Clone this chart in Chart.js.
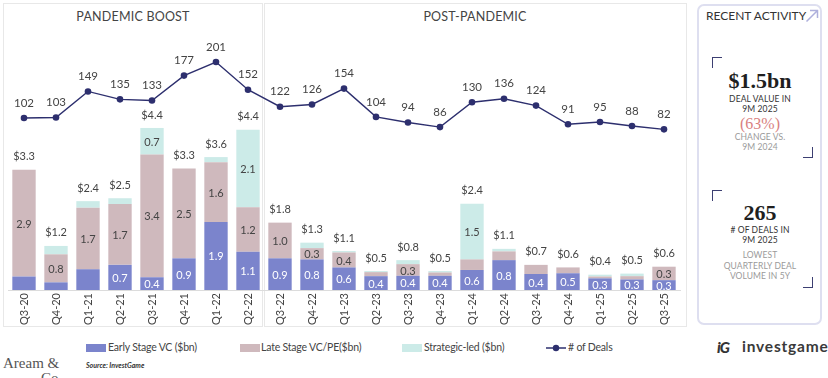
<!DOCTYPE html>
<html>
<head>
<meta charset="utf-8">
<script src="https://cdn.jsdelivr.net/npm/chart.js@4/dist/chart.umd.min.js"></script>
<style>
  html,body{margin:0;padding:0;background:#fff;}
  body{width:828px;height:378px;overflow:hidden;position:relative;font-family:Lato,"Open Sans",sans-serif;color:#3c3c3c;}
  .abs{position:absolute;}
  .panel{position:absolute;border:1px solid #e8e8e8;box-sizing:border-box;}
  .ptitle{position:absolute;top:9px;font-size:12.5px;color:#444;letter-spacing:0.2px;white-space:nowrap;transform:translateX(-50%);}
  #side{left:697px;top:4px;width:125px;height:321px;border:2px solid #dedff0;border-radius:7px;box-sizing:border-box;}
  .ctr{position:absolute;left:700px;width:120px;text-align:center;white-space:nowrap;transform:translateY(-50%);}
  .big{font-family:"Liberation Serif","DejaVu Serif",serif;font-weight:bold;font-size:22px;color:#1f1f1f;}
  .sm{font-size:8.5px;color:#333;letter-spacing:0.1px;}
  .gr{font-size:8.5px;color:#9a9a9a;letter-spacing:0.1px;}
  .br{position:absolute;width:10px;height:11px;box-sizing:border-box;border-color:#3c3f72;border-style:solid;}
  .tl{border-width:1.5px 0 0 1.5px;}
  .brr{border-width:0 1.5px 1.5px 0;}
  .leg{position:absolute;top:341px;font-size:10.5px;color:#444;white-space:nowrap;letter-spacing:-0.2px;}
  .sw{position:absolute;top:344px;width:20px;height:8px;}
</style>
</head>
<body>
<div class="panel" style="left:3px;top:3px;width:260px;height:324px;"></div>
<div class="panel" style="left:264px;top:3px;width:423px;height:324px;"></div>
<div class="ptitle" style="left:133px;">PANDEMIC BOOST</div>
<div class="ptitle" style="left:475px;">POST-PANDEMIC</div>

<div id="side" class="abs"></div>
<div class="abs" style="left:706px;top:8px;font-size:12px;color:#333;white-space:nowrap;">RECENT ACTIVITY</div>
<svg class="abs" style="left:805px;top:9px;" width="14" height="14" viewBox="0 0 14 14"><path d="M1.5 12.5 L12.5 1.5 M5 1.5 L12.5 1.5 L12.5 9" stroke="#aeb0dc" stroke-width="1.5" fill="none"/></svg>

<div class="br tl" style="left:712px;top:57px;"></div>
<div class="br brr" style="left:803px;top:147px;"></div>
<div class="ctr big" style="top:81px;">$1.5bn</div>
<div class="ctr sm" style="top:99px;">DEAL VALUE IN</div>
<div class="ctr sm" style="top:109px;">9M 2025</div>
<div class="ctr" style="top:124px;font-family:'Liberation Serif','DejaVu Serif',serif;font-size:16px;color:#d9817f;">(63%)</div>
<div class="ctr gr" style="top:137px;">CHANGE VS.</div>
<div class="ctr gr" style="top:147px;">9M 2024</div>

<div class="br tl" style="left:712px;top:190px;"></div>
<div class="br brr" style="left:803px;top:277px;"></div>
<div class="ctr big" style="top:213px;">265</div>
<div class="ctr sm" style="top:230px;"># OF DEALS IN</div>
<div class="ctr sm" style="top:240px;">9M 2025</div>
<div class="ctr gr" style="top:255px;">LOWEST</div>
<div class="ctr gr" style="top:266px;">QUARTERLY DEAL</div>
<div class="ctr gr" style="top:276px;">VOLUME IN 5Y</div>

<div class="sw" style="left:86px;background:#7b84cc;"></div>
<div class="leg" style="left:108px;">Early Stage VC ($bn)</div>
<div class="sw" style="left:240px;background:#cfb9bd;"></div>
<div class="leg" style="left:261px;">Late Stage VC/PE($bn)</div>
<div class="sw" style="left:402px;background:#ccebe8;"></div>
<div class="leg" style="left:424px;">Strategic-led ($bn)</div>
<svg class="abs" style="left:545px;top:343px;" width="22" height="10"><line x1="1" y1="5" x2="21" y2="5" stroke="#2d2f6e" stroke-width="1.5"/><circle cx="11" cy="5" r="3.2" fill="#2d2f6e"/></svg>
<div class="leg" style="left:568px;"># of Deals</div>

<div class="abs" style="left:3px;top:356px;font-family:'Liberation Serif',serif;font-size:15px;color:#555;line-height:15px;">Aream &amp;<br><span style="padding-left:38px">Co.</span></div>
<div class="abs" style="left:86px;top:361px;font-size:7px;font-weight:bold;font-style:italic;color:#333;">Source: InvestGame</div>
<div class="abs" style="left:717px;top:338px;font-size:15px;font-weight:900;font-style:italic;color:#333;letter-spacing:-1px;">iG</div>
<div class="abs" style="left:742px;top:337px;font-size:15.5px;font-weight:bold;color:#3a3a3a;letter-spacing:0.8px;">investgame</div>

<canvas id="c" width="828" height="378" style="position:absolute;left:0;top:0;"></canvas>

<script>
const categories = ['Q3-20','Q4-20','Q1-21','Q2-21','Q3-21','Q4-21','Q1-22','Q2-22','Q3-22','Q4-22','Q1-23','Q2-23','Q3-23','Q4-23','Q1-24','Q2-24','Q3-24','Q4-24','Q1-25','Q2-25','Q3-25'];
const early     = [0.37,0.21,0.57,0.69,0.35,0.87,1.87,1.05,0.87,0.84,0.62,0.38,0.39,0.39,0.55,0.82,0.44,0.46,0.32,0.29,0.27];
const late      = [2.93,0.77,1.69,1.67,3.37,2.47,1.64,1.22,0.98,0.31,0.41,0.11,0.32,0.09,0.29,0.24,0.25,0.16,0.05,0.09,0.37];
const strategic = [0,0.23,0.18,0.16,0.73,0,0.14,2.13,0,0.15,0.04,0.03,0.11,0.04,1.53,0.07,0,0,0.05,0.07,0];
const totals    = [3.3,1.2,2.4,2.5,4.4,3.3,3.6,4.4,1.8,1.3,1.1,0.5,0.8,0.5,2.4,1.1,0.7,0.6,0.4,0.5,0.6];
const deals     = [102,103,149,135,133,177,201,152,122,126,154,104,94,86,130,136,124,91,95,88,82];
const earlyLabels     = [null,null,null,0.7,0.4,0.9,1.9,1.1,0.9,0.8,0.6,0.4,0.4,0.4,0.6,0.8,0.4,0.5,0.3,0.3,0.3];
const lateLabels      = [2.9,0.8,1.7,1.7,3.4,2.5,1.6,1.2,1.0,0.3,0.4,null,0.3,null,null,null,null,null,null,null,0.3];
const strategicLabels = [null,null,null,null,0.7,null,null,2.1,null,null,null,null,null,null,1.5,null,null,null,null,null,null];

const FONT = 'Lato, "Open Sans", sans-serif';

const labelPlugin = {
  id: 'valueLabels',
  afterDatasetsDraw(chart) {
    const ctx = chart.ctx;
    ctx.save();
    ctx.textAlign = 'center';
    ctx.textBaseline = 'middle';
    const segLabels = [earlyLabels, lateLabels, strategicLabels];
    const segColors = ['#ffffff', '#444444', '#444444'];
    ctx.font = '11px ' + FONT;
    for (let d = 0; d < 3; d++) {
      const meta = chart.getDatasetMeta(d);
      meta.data.forEach((bar, i) => {
        const v = segLabels[d][i];
        if (v == null) return;
        ctx.fillStyle = segColors[d];
        ctx.fillText(v.toFixed(1), bar.x, (bar.y + bar.base) / 2 + 1);
      });
    }
    const ys = chart.scales.y;
    const m0 = chart.getDatasetMeta(0);
    ctx.fillStyle = '#444444';
    ctx.font = '11px ' + FONT;
    categories.forEach((c, i) => {
      const top = ys.getPixelForValue(early[i] + late[i] + strategic[i]);
      ctx.fillText('$' + totals[i].toFixed(1), m0.data[i].x, top - 13);
    });
    const lm = chart.getDatasetMeta(3);
    ctx.font = '11.5px ' + FONT;
    lm.data.forEach((p, i) => {
      ctx.fillText(String(deals[i]), p.x, p.y - 15);
    });
    ctx.restore();
  }
};

new Chart(document.getElementById('c'), {
  type: 'bar',
  data: {
    labels: categories,
    datasets: [
      { label: 'Early Stage VC ($bn)', data: early, backgroundColor: '#7b84cc', yAxisID: 'y', order: 2, barPercentage: 0.73, categoryPercentage: 1 },
      { label: 'Late Stage VC/PE($bn)', data: late, backgroundColor: '#cfb9bd', yAxisID: 'y', order: 2, barPercentage: 0.73, categoryPercentage: 1 },
      { label: 'Strategic-led ($bn)', data: strategic, backgroundColor: '#ccebe8', yAxisID: 'y', order: 2, barPercentage: 0.73, categoryPercentage: 1 },
      { type: 'line', label: '# of Deals', data: deals, yAxisID: 'y2', order: 0, borderColor: '#2d2f6e', backgroundColor: '#2d2f6e', borderWidth: 1.4, pointRadius: 3.3, pointBackgroundColor: '#2d2f6e', pointBorderWidth: 0, tension: 0 }
    ]
  },
  options: {
    responsive: false,
    animation: false,
    layout: { padding: { left: 8, right: 148, top: 30, bottom: 0 } },
    plugins: { legend: { display: false }, tooltip: { enabled: false } },
    scales: {
      x: {
        stacked: true,
        offset: true,
        grid: { display: true, drawOnChartArea: false, drawTicks: false, color: 'rgba(0,0,0,0)' },
        border: { display: true, color: '#dcdcdc', width: 1 },
        ticks: { minRotation: 90, maxRotation: 90, padding: 3, color: '#444', font: { family: FONT, size: 11 }, autoSkip: false },
        afterFit(scale) { scale.height = 88; }
      },
      y: { stacked: true, display: false, min: 0, max: 7.14 },
      y2: { display: false, min: -202, max: 257.6 }
    }
  },
  plugins: [labelPlugin]
});
</script>
</body>
</html>
